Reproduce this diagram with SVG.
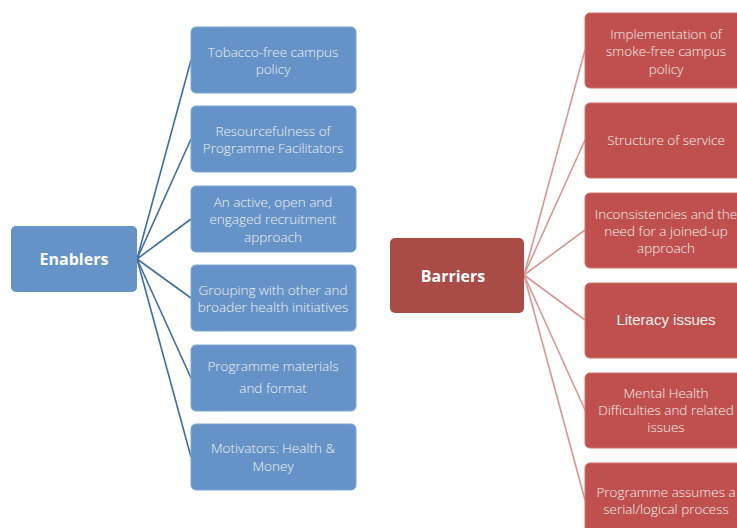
<svg xmlns="http://www.w3.org/2000/svg" width="737" height="528" viewBox="0 0 737 528">
<style>
.eb{fill:#6593c7;stroke:#7ea5d2;stroke-width:1}
.br{fill:#c0504d;stroke:#cd7470;stroke-width:1}
.root-e{fill:#6593c7}
.root-b{fill:#a94c46}
.le{stroke:#3e6e9f;stroke-width:1.6;fill:none}
.lb{stroke:#d99694;stroke-width:1.6;fill:none}
text{font-family:"Open Sans","Liberation Sans",sans-serif;font-size:13.5px;fill:#f2f2f2;text-anchor:middle;font-weight:300}
.bold{font-weight:700;font-size:16px;fill:#ffffff}
.arial{font-family:"Liberation Sans",Arial,sans-serif;font-size:15px;font-weight:400}
</style>
<g id="connectors">
<line class="le" x1="137" y1="259" x2="191" y2="60"/>
<line class="le" x1="137" y1="259" x2="191" y2="139"/>
<line class="le" x1="137" y1="259" x2="191" y2="219"/>
<line class="le" x1="137" y1="259" x2="191" y2="298"/>
<line class="le" x1="137" y1="259" x2="191" y2="378"/>
<line class="le" x1="137" y1="259" x2="191" y2="457"/>
<line class="lb" x1="524" y1="275" x2="585" y2="50"/>
<line class="lb" x1="524" y1="275" x2="585" y2="140"/>
<line class="lb" x1="524" y1="275" x2="585" y2="230"/>
<line class="lb" x1="524" y1="275" x2="585" y2="320"/>
<line class="lb" x1="524" y1="275" x2="585" y2="410"/>
<line class="lb" x1="524" y1="275" x2="585" y2="500"/>
</g>
<g id="enablers">
<rect class="root-e" x="11" y="226" width="126" height="66" rx="5"/>
<text class="bold" x="74" y="265">Enablers</text>
</g>
<g id="e1"><rect class="eb" x="191" y="27" width="165" height="66" rx="5"/>
<text x="273" y="57">Tobacco-free campus</text><text x="273" y="74">policy</text></g>
<g id="e2"><rect class="eb" x="191" y="106" width="165" height="66" rx="5"/>
<text x="273" y="136">Resourcefulness of</text><text x="273" y="153">Programme Facilitators</text></g>
<g id="e3"><rect class="eb" x="191" y="186" width="165" height="66" rx="5"/>
<text x="273" y="207">An active, open and</text><text x="273" y="224">engaged recruitment</text><text x="273" y="242">approach</text></g>
<g id="e4"><rect class="eb" x="191" y="265" width="165" height="66" rx="5"/>
<text x="273" y="295">Grouping with other and</text><text x="273" y="312">broader health initiatives</text></g>
<g id="e5"><rect class="eb" x="191" y="345" width="165" height="66" rx="5"/>
<text x="273" y="371">Programme materials</text><text x="273" y="393">and format</text></g>
<g id="e6"><rect class="eb" x="191" y="424" width="165" height="66" rx="5"/>
<text x="273" y="453">Motivators: Health &amp;</text><text x="273" y="471">Money</text></g>
<g id="barriers">
<rect class="root-b" x="390" y="238" width="134" height="75" rx="5"/>
<text class="bold" x="453" y="282">Barriers</text>
</g>
<g id="b1"><rect class="br" x="585" y="13" width="162" height="75" rx="5"/>
<text x="666" y="39">Implementation of</text><text x="666" y="56">smoke-free campus</text><text x="666" y="74">policy</text></g>
<g id="b2"><rect class="br" x="585" y="103" width="162" height="75" rx="5"/>
<text x="666" y="145">Structure of service</text></g>
<g id="b3"><rect class="br" x="585" y="193" width="162" height="75" rx="5"/>
<text x="666" y="219">Inconsistencies and the</text><text x="666" y="236">need for a joined-up</text><text x="666" y="253">approach</text></g>
<g id="b4"><rect class="br" x="585" y="283" width="162" height="75" rx="5"/>
<text class="arial" x="666" y="325">Literacy issues</text></g>
<g id="b5"><rect class="br" x="585" y="373" width="162" height="75" rx="5"/>
<text x="666" y="398">Mental Health</text><text x="666" y="415">Difficulties and related</text><text x="666" y="432">issues</text></g>
<g id="b6"><rect class="br" x="585" y="463" width="162" height="75" rx="5"/>
<text x="666" y="497">Programme assumes a</text><text x="666" y="514">serial/logical process</text></g>
</svg>
